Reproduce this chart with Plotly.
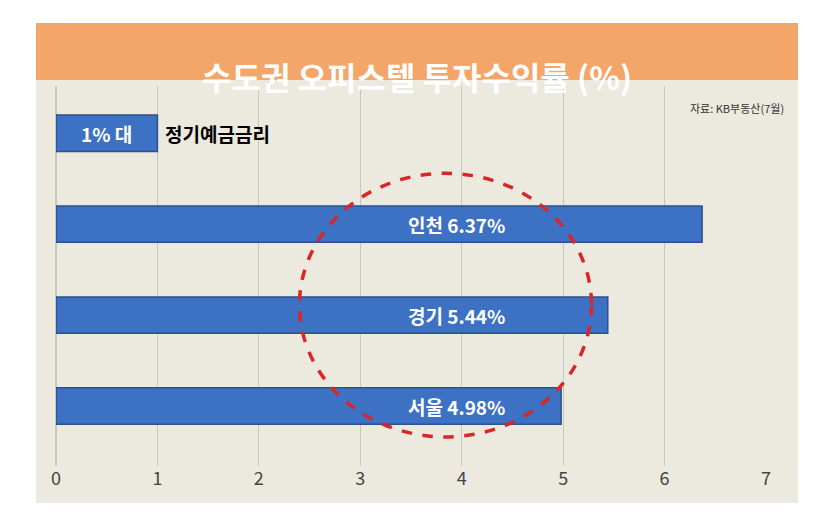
import plotly.graph_objects as go

categories = ["서울", "경기", "인천", "정기예금"]
values = [4.98, 5.44, 6.37, 1]
bar_labels = ["서울 4.98%", "경기 5.44%", "인천 6.37%", "1% 대"]
tick_vals = [0, 1, 2, 3, 4, 5, 6, 7]

FONT = "Noto Sans CJK KR"
W, H = 813, 531
L, R, T, B = 48, 55, 78, 73
pw, ph = W - L - R, H - T - B

def px(x):
    return (x - L) / pw

def py(y):
    return (H - B - y) / ph

fig = go.Figure()
fig.add_trace(go.Bar(
    x=values, y=list(range(len(categories))), orientation="h", width=0.4,
    marker=dict(color="#3D71C3", line=dict(color="#2B528F", width=1.5)),
    hoverinfo="skip"))

# labels inside bars
for i, (v, lab) in enumerate(zip(values, bar_labels)):
    if i == 3:
        fig.add_annotation(x=v / 2, y=i, text=f"<b>{lab}</b>", showarrow=False,
                           font=dict(family=FONT, size=19, color="white"))
        fig.add_annotation(x=1.05, y=i, text="<b>정기예금금리</b>", showarrow=False, xanchor="left",
                           font=dict(family=FONT, size=19, color="black"))
    else:
        fig.add_annotation(x=3.95, y=i, text=f"<b>{lab}</b>", showarrow=False,
                           font=dict(family=FONT, size=19, color="white"))

shapes = [
    dict(type="rect", xref="paper", yref="paper", x0=px(28), x1=px(790), y0=py(495), y1=py(40),
         fillcolor="#ECE9DF", line=dict(width=0), layer="below"),
    dict(type="rect", xref="paper", yref="paper", x0=px(28), x1=px(790), y0=py(72), y1=py(15),
         fillcolor="#F4A669", line=dict(width=0), layer="above"),
    dict(type="circle", xref="x", yref="y", x0=2.40, x1=5.28, y0=-0.34, y1=2.56,
         line=dict(color="#D9262B", width=3.5, dash="dash")),
]
fig.add_annotation(xref="paper", yref="paper", x=px(409), y=py(43),
                   text="<b>수도권 오피스텔 투자수익률 (%)</b>", showarrow=False,
                   font=dict(family=FONT, size=32, color="white"))
fig.add_annotation(xref="paper", yref="paper", x=px(778), y=py(90), xanchor="right",
                   text="자료: KB부동산(7월)", showarrow=False,
                   font=dict(family=FONT, size=11, color="#333333"))

fig.update_layout(
    width=W, height=H, margin=dict(l=L, r=R, t=T, b=B, autoexpand=False),
    paper_bgcolor="white", plot_bgcolor="#ECE9DF", showlegend=False, shapes=shapes,
    xaxis=dict(range=[0, 7], tickvals=tick_vals, showgrid=True, gridcolor="#C9C6BE",
               zeroline=True, zerolinecolor="#C9C6BE", ticks="", ticklen=0,
               tickfont=dict(family=FONT, size=18, color="#444444")),
    yaxis=dict(range=[-0.66, 3.52], showticklabels=False, showgrid=False, zeroline=False),
)
fig.write_html("out.html")
